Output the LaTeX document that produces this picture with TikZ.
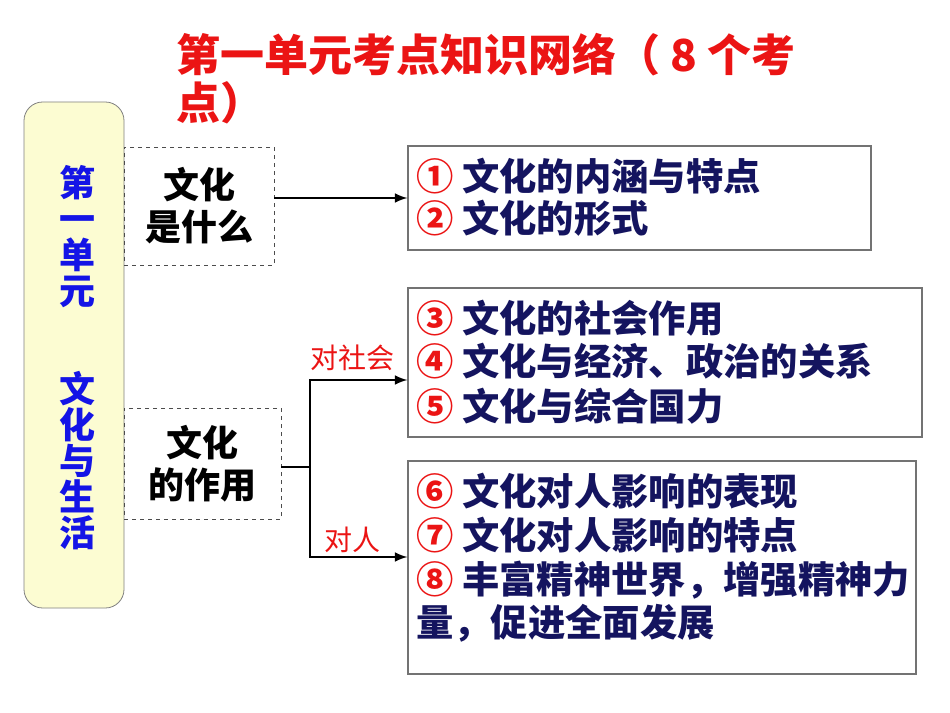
\documentclass[tikz,border=0pt]{standalone}
\usepackage{fontspec}
\setmainfont{Noto Sans CJK SC}
\newfontfamily\cjk{Noto Sans CJK SC}
\definecolor{navy}{RGB}{20,20,95}
\definecolor{tred}{RGB}{235,20,20}
\definecolor{tblue}{RGB}{20,20,230}
\definecolor{ylw}{RGB}{252,252,210}
\begin{document}
\begin{tikzpicture}[x=0.75pt,y=-0.75pt,
  dbox/.style={draw=black!70,dashed,line width=0.6pt},
  sbox/.style={draw=black!55,line width=0.8pt},
  ln/.style={anchor=west,inner sep=0pt,font=\fontsize{28pt}{33pt}\selectfont\bfseries,text=navy},
  conn/.style={line width=2.2pt,-latex},
  lbl/.style={font=\fontsize{21pt}{24pt}\selectfont,text=tred,inner sep=0pt}]
\useasboundingbox (0,0) rectangle (950,713);
\fill[white] (0,0) rectangle (950,713);
% title
\node[anchor=west,inner sep=0pt,text=tred,font=\fontsize{33pt}{36pt}\selectfont\bfseries] (t1) at (176,55) {第一单元考点知识网络（ 8 个考};
\node[anchor=west,inner sep=0pt,text=tred,font=\fontsize{33pt}{36pt}\selectfont\bfseries] (t2) at (176,103) {点）};
% left box
\draw[draw=black!50,fill=ylw,rounded corners=14pt,line width=0.6pt] (24,102) rectangle (124,608);
\node[text=tblue,font=\fontsize{27pt}{27pt}\selectfont\bfseries,align=center,inner sep=0pt] (u1) at (77,237) {第\\一\\单\\元};
\node[text=tblue,font=\fontsize{27pt}{27pt}\selectfont\bfseries,align=center,inner sep=0pt] (u2) at (77,461) {文\\化\\与\\生\\活};
% dashed boxes
\node[dbox,minimum width=150*0.75pt,minimum height=118*0.75pt,align=center,font=\fontsize{27pt}{31.5pt}\selectfont\bfseries] (a) at (199,206) {文化\\是什么};
\node[dbox,minimum width=157*0.75pt,minimum height=111*0.75pt,align=center,font=\fontsize{27pt}{31.5pt}\selectfont\bfseries] (b) at (202.5,463.5) {文化\\的作用};
% right boxes
\node[sbox,minimum width=463*0.75pt,minimum height=104*0.75pt] (r1) at (639.5,198) {};
\node[sbox,minimum width=514*0.75pt,minimum height=149*0.75pt] (r2) at (665,362.5) {};
\node[sbox,minimum width=508*0.75pt,minimum height=213*0.75pt] (r3) at (662,567.5) {};
% texts
\node[ln] at (416,176) {\textcolor{tred}{①} 文化的内涵与特点};
\node[ln] at (416,218) {\textcolor{tred}{②} 文化的形式};
\node[ln] at (416,318) {\textcolor{tred}{③} 文化的社会作用};
\node[ln] at (416,361) {\textcolor{tred}{④} 文化与经济、政治的关系};
\node[ln] at (416,406) {\textcolor{tred}{⑤} 文化与综合国力};
\node[ln] at (416,491) {\textcolor{tred}{⑥} 文化对人影响的表现};
\node[ln] at (416,535) {\textcolor{tred}{⑦} 文化对人影响的特点};
\node[ln] at (416,580) {\textcolor{tred}{⑧} 丰富精神世界，增强精神力};
\node[ln] at (416,623) {量，促进全面发展};
% connectors
\coordinate (j) at (310,467);
\draw[conn] (a.east |- 0,198) -- (r1.west |- 0,198);
\draw[line width=2.2pt] (b.east |- j) -- (j);
\draw[conn] (310,467) -- (310,380) -- (r2.west |- 0,380);
\draw[conn] (310,467) -- (310,557) -- (r3.west |- 0,557);
\node[lbl] (l1) at (352,358) {对社会};
\node[lbl] (l2) at (352,540) {对人};
\end{tikzpicture}
\end{document}
